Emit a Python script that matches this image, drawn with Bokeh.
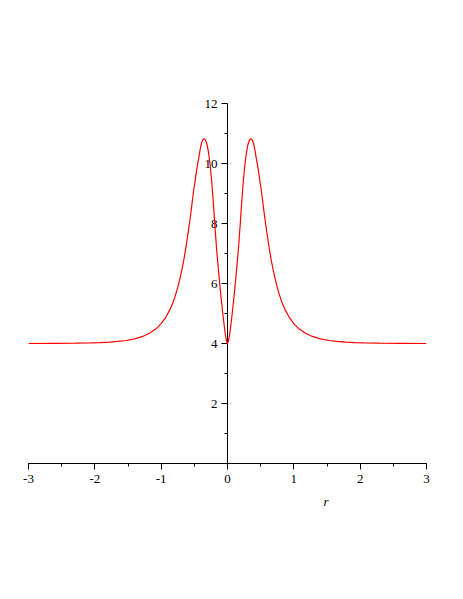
from bokeh.plotting import figure
from bokeh.models import SingleIntervalTicker, ColumnDataSource, Title
from bokeh.core.properties import value
from bokeh.embed import file_html
from bokeh.resources import INLINE

# curve values (r, value), right half; left half mirrors it
r_right = [0.0, 0.01, 0.02, 0.03, 0.04, 0.055, 0.071, 0.085, 0.10, 0.12, 0.14, 0.161,
           0.176, 0.191, 0.206, 0.222, 0.24, 0.262, 0.276, 0.29, 0.305, 0.32, 0.337,
           0.352, 0.368, 0.385, 0.40, 0.415, 0.43, 0.448, 0.465, 0.48, 0.495, 0.51,
           0.525, 0.54, 0.557, 0.574, 0.60, 0.63, 0.66, 0.684, 0.71, 0.75, 0.79, 0.826,
           0.87, 0.926, 1.0, 1.077, 1.17, 1.279, 1.4, 1.53, 1.65, 1.78, 1.92, 2.06, 2.3,
           2.6, 3.0]
v_right = [4.0, 4.05, 4.15, 4.28, 4.43, 4.7, 5.0, 5.3, 5.6, 6.05, 6.55, 7.05,
           7.5, 7.95, 8.45, 8.95, 9.45, 9.95, 10.2, 10.42, 10.6, 10.72, 10.8,
           10.83, 10.8, 10.72, 10.6, 10.43, 10.23, 10.0, 9.78, 9.55, 9.32, 9.1,
           8.85, 8.57, 8.28, 8.0, 7.6, 7.16, 6.77, 6.5, 6.23, 5.87, 5.57, 5.34,
           5.12, 4.89, 4.66, 4.49, 4.35, 4.235, 4.156, 4.10, 4.07, 4.047, 4.03, 4.02, 4.01,
           4.005, 4.0]
r_left = [-x for x in r_right[::-1]]
v_left = v_right[::-1]
r_vals = r_left[:-1] + r_right
v_vals = v_left[:-1] + v_right

x_ticks = [-3, -2, -1, 0, 1, 2, 3]
x_tick_labels = ["-3", "-2", "-1", "0", "1", "2", "3"]
y_major = [2, 4, 6, 8, 10, 12]
y_major_labels = ["2", "4", "6", "8", "10", "12"]
y_minor = [1, 3, 5, 7, 9, 11]
x_name = "r"

FONT = "Liberation Serif"

p = figure(width=447, height=583, x_range=(-3, 3), y_range=(0, 12.4),
           output_backend="svg", toolbar_location=None, y_axis_location=None,
           min_border_left=28, min_border_right=21, min_border_top=91,
           min_border_bottom=120)
p.outline_line_color = None
p.xgrid.visible = False
p.ygrid.visible = False
p.background_fill_color = "white"
p.border_fill_color = "white"

# x axis (at value 0, the bottom of the range)
ax = p.xaxis[0]
ax.ticker = SingleIntervalTicker(interval=1, num_minor_ticks=2)
ax.major_label_overrides = {t: l for t, l in zip(x_ticks, x_tick_labels)}
ax.axis_line_color = "black"
ax.axis_line_width = 1
ax.major_tick_in = 0
ax.major_tick_out = 6
ax.minor_tick_in = 0
ax.minor_tick_out = 3
ax.major_tick_line_color = "black"
ax.minor_tick_line_color = "black"
ax.major_label_text_font = FONT
ax.major_label_text_font_size = "13px"
ax.major_label_text_color = "black"
ax.major_label_standoff = 5

# axis name "r" under the x axis
p.add_layout(Title(text=x_name, align="left", offset=295, text_font=FONT,
                   text_font_style="italic", text_font_size="13px",
                   text_color="black", standoff=12), "below")

# y axis drawn at r = 0
p.segment(x0=[0], y0=[0], x1=[0], y1=[max(y_major)], line_color="black", line_width=1)
maj_len = 6 * 6 / 398.0
min_len = 3 * 6 / 398.0
p.segment(x0=[-maj_len] * len(y_major), y0=y_major, x1=[0] * len(y_major), y1=y_major,
          line_color="black", line_width=1)
p.segment(x0=[-min_len] * len(y_minor), y0=y_minor, x1=[0] * len(y_minor), y1=y_minor,
          line_color="black", line_width=1)
ysrc = ColumnDataSource(dict(x=[0] * len(y_major), y=y_major, t=y_major_labels))
p.text(x="x", y="y", text="t", source=ysrc, x_offset=-10, text_align="right",
       text_baseline="middle", text_font=value(FONT), text_font_size="13px",
       text_color="black")

# curve
p.line(r_vals, v_vals, line_color="#ff0000", line_width=1.2)

open("out.html", "w").write(file_html(p, INLINE))
